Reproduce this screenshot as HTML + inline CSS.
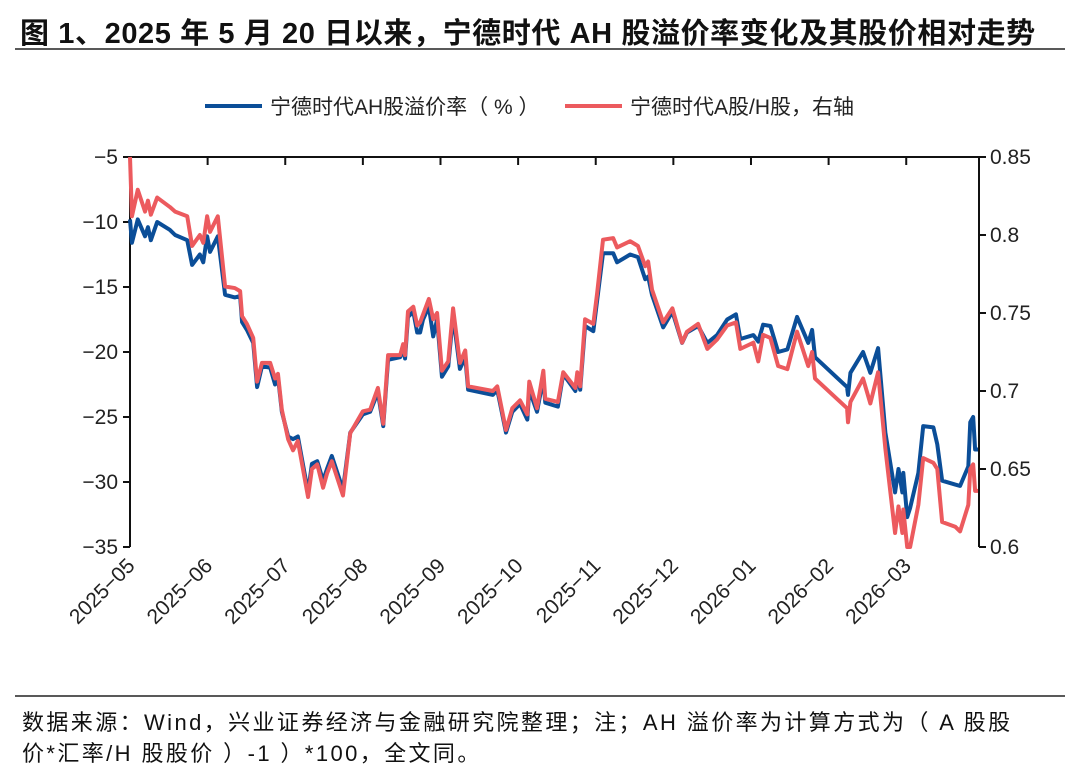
<!DOCTYPE html>
<html><head><meta charset="utf-8"><style>
body{margin:0;background:#fff;width:1080px;height:778px;overflow:hidden;font-family:"Liberation Sans","Noto Sans CJK SC",sans-serif;}
#title{position:absolute;left:20px;top:10px;font-size:29px;font-weight:bold;color:#111;white-space:nowrap;letter-spacing:0.6px}
.foot{position:absolute;left:22px;font-size:22px;color:#111;white-space:nowrap;letter-spacing:2.4px}
</style></head><body>
<div id="title">图 1、2025 年 5 月 20 日以来，宁德时代 AH 股溢价率变化及其股价相对走势</div>
<svg id="chart" width="1080" height="778" style="position:absolute;left:0;top:0">
<line x1="15" y1="49" x2="1065" y2="49" stroke="#222" stroke-width="1.5"/>
<line x1="15" y1="696" x2="1065" y2="696" stroke="#222" stroke-width="1.5"/>
<g>
<g><line x1="205" y1="106" x2="262" y2="106" stroke="#0b4e98" stroke-width="4"/><text x="270" y="114" font-size="21" fill="#222">宁德时代AH股溢价率（ % ）</text></g>
<g><line x1="565" y1="106" x2="622" y2="106" stroke="#ec5a5e" stroke-width="4"/><text x="630" y="114" font-size="21" fill="#222">宁德时代A股/H股，右轴</text></g>
</g>
<g id="axes"></g>
<g id="series"></g>
</svg>
<div class="foot" style="top:705px">数据来源：Wind，兴业证券经济与金融研究院整理；注；AH 溢价率为计算方式为（ A 股股</div>
<div class="foot" style="top:736px">价*汇率/H 股股价 ）-1 ）*100，全文同。</div>
<script>
const dayIndex=[0,0.4,1.6,3.1,3.7,4.3,5.6,8.2,9.3,11.8,12.8,14.4,15.1,15.9,16.5,18.1,19.6,21.6,22.7,23.1,24.1,25.4,26.2,27.2,28.9,29.9,30.5,31.3,32.6,33.6,34.6,36.7,37.5,38.6,39.8,40.6,41.6,43.9,45.4,48.0,49.5,51.1,52.2,53.2,55.7,56.3,56.7,57.3,58.4,59.2,59.8,60.4,61.6,62.5,63.3,64.3,65.6,66.6,68.0,69.1,69.7,74.8,75.7,77.5,78.8,80.4,81.9,82.3,83.9,85.2,85.6,88.2,89.3,91.8,92.2,92.8,93.8,95.5,96.3,97.5,99.6,100.4,103.1,104.7,106.2,106.8,107.6,109.9,111.8,113.8,114.8,117.1,119.0,121.0,123.1,124.9,125.8,128.5,129.5,130.5,132.0,133.6,135.5,137.5,139.8,140.6,141.2,147.8,148.0,148.5,151.1,152.6,154.2,155.7,157.7,158.4,159.2,159.4,160.2,160.8,162.5,163.5,165.6,166.4,167.4,170.1,171.1,172.8,173.2,173.8,174.2,174.8];
const premium=[-9.8,-11.6,-9.8,-11.1,-10.4,-11.4,-10.0,-10.6,-11.0,-11.4,-13.3,-12.5,-13.1,-11.1,-12.3,-11.1,-15.6,-15.8,-15.7,-17.7,-18.3,-19.3,-22.7,-21.1,-21.2,-22.5,-21.9,-24.6,-26.5,-26.7,-26.5,-30.8,-28.6,-28.4,-29.9,-29.0,-28.0,-30.6,-26.2,-24.8,-24.6,-23.1,-25.7,-20.6,-20.4,-19.7,-20.5,-17.3,-16.9,-18.5,-18.5,-17.5,-16.5,-18.8,-17.5,-21.9,-21.1,-17.2,-21.3,-20.4,-22.9,-23.3,-22.9,-26.2,-24.6,-24.0,-25.2,-22.9,-24.6,-22.0,-23.9,-24.2,-21.7,-23.0,-21.9,-22.9,-18.0,-18.4,-16.0,-12.4,-12.4,-13.1,-12.5,-12.7,-14.4,-14.2,-15.6,-18.1,-16.9,-19.3,-18.5,-18.0,-19.3,-18.7,-17.5,-17.1,-19.0,-18.7,-19.2,-17.9,-18.0,-20.0,-19.8,-17.3,-19.3,-18.3,-20.4,-22.7,-23.3,-21.6,-20.0,-21.6,-19.7,-26.2,-30.8,-29.0,-30.8,-29.3,-32.7,-32.0,-29.3,-25.7,-25.8,-27.1,-29.9,-30.2,-30.3,-28.8,-25.4,-25.0,-27.5,-27.5];
const ratio=[0.850,0.812,0.829,0.815,0.822,0.813,0.824,0.818,0.815,0.812,0.793,0.800,0.795,0.812,0.802,0.812,0.767,0.766,0.764,0.748,0.743,0.734,0.706,0.718,0.718,0.708,0.711,0.688,0.669,0.662,0.668,0.632,0.650,0.653,0.638,0.647,0.655,0.633,0.673,0.687,0.688,0.702,0.679,0.723,0.723,0.730,0.723,0.751,0.754,0.742,0.744,0.749,0.759,0.746,0.750,0.713,0.719,0.753,0.718,0.726,0.703,0.700,0.703,0.675,0.689,0.694,0.685,0.706,0.689,0.713,0.695,0.693,0.712,0.702,0.712,0.703,0.746,0.743,0.763,0.797,0.798,0.792,0.796,0.793,0.780,0.783,0.765,0.744,0.753,0.731,0.738,0.743,0.727,0.733,0.742,0.744,0.727,0.731,0.719,0.736,0.734,0.716,0.714,0.738,0.716,0.725,0.708,0.689,0.680,0.693,0.708,0.692,0.712,0.663,0.609,0.626,0.609,0.624,0.600,0.600,0.627,0.657,0.654,0.650,0.616,0.613,0.610,0.627,0.650,0.653,0.636,0.636];
const xTickLabels=["2025-05","2025-06","2025-07","2025-08","2025-09","2025-10","2025-11","2025-12","2026-01","2026-02","2026-03"];
const xTickIndex=[0,16,32,48,64,80,96,112,128,144,160];
const leftTicks=[-5,-10,-15,-20,-25,-30,-35];
const rightTicks=[0.85,0.8,0.75,0.7,0.65,0.6];

const L=130,R=979,T=157,B=547;
const X=i=>L+(i/175)*(R-L);
const YL=v=>T+(-5-v)/30*(B-T);
const YR=v=>T+(0.85-v)/0.25*(B-T);
const NS="http://www.w3.org/2000/svg";
function mk(tag,attrs,parent){const e=document.createElementNS(NS,tag);for(const k in attrs)e.setAttribute(k,attrs[k]);parent.appendChild(e);return e;}
const ax=document.getElementById('axes');
let e=mk('line',{x1:L,y1:T,x2:R,y2:T,stroke:'#111','stroke-width':2},ax);


e=mk('line',{x1:L,y1:T,x2:L,y2:B,stroke:'#111','stroke-width':2},ax);


e=mk('line',{x1:R,y1:T,x2:R,y2:B,stroke:'#111','stroke-width':2},ax);


leftTicks.forEach(v=>{const y=YL(v);
 mk('line',{x1:L-7,y1:y,x2:L,y2:y,stroke:'#111','stroke-width':2},ax);
 const t=mk('text',{x:L-12,y:y+7,'text-anchor':'end','font-size':21,fill:'#222'},ax);t.textContent=String(v).replace('-','−');
 
 });
rightTicks.forEach(v=>{const y=YR(v);
 mk('line',{x1:R,y1:y,x2:R+7,y2:y,stroke:'#111','stroke-width':2},ax);
 const t=mk('text',{x:R+11,y:y+7,'font-size':21,fill:'#222'},ax);t.textContent=String(v);
 
 });
xTickLabels.forEach((lab,k)=>{const x=X(xTickIndex[k]);
 if(k>0)mk('line',{x1:x,y1:T,x2:x,y2:T+8,stroke:'#111','stroke-width':2},ax);
 const t=mk('text',{x:x+6,y:B+20,'text-anchor':'end','font-size':21,fill:'#222',transform:`rotate(-45 ${x+6} ${B+20})`},ax);t.textContent=lab.replace('-','−');
 
 });
const sg=document.getElementById('series');
const pb=mk('polyline',{points:dayIndex.map((d,i)=>X(d)+','+YL(premium[i])).join(' '),fill:'none',stroke:'#0b4e98','stroke-width':4,'stroke-linejoin':'round'},sg);


const pr=mk('polyline',{points:dayIndex.map((d,i)=>X(d)+','+YR(ratio[i])).join(' '),fill:'none',stroke:'#ec5a5e','stroke-width':4,'stroke-linejoin':'round'},sg);


</script>
</body></html>
